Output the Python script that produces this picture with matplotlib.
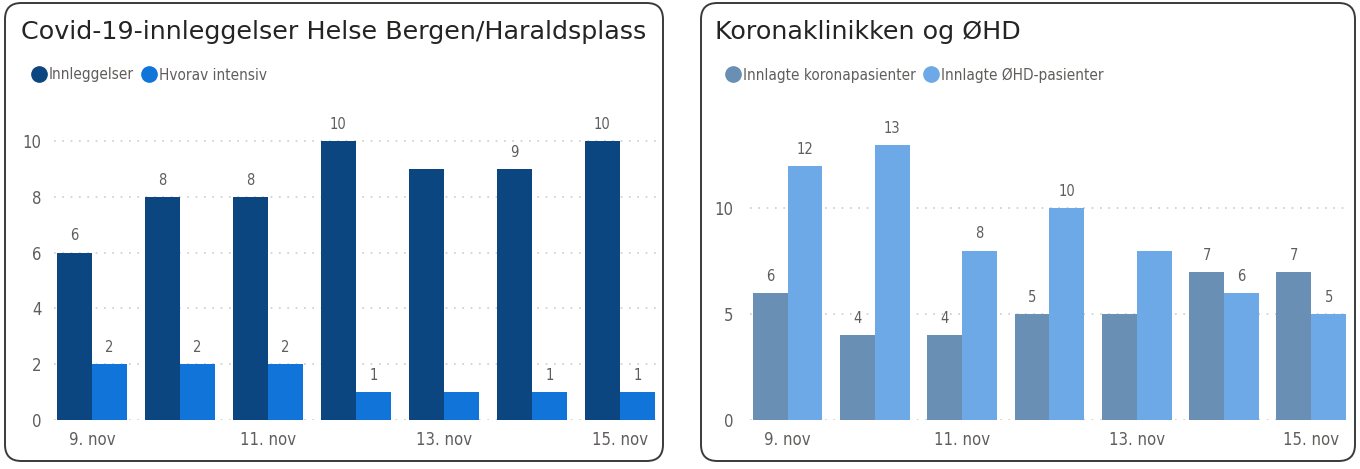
import matplotlib
matplotlib.use("Agg")
import matplotlib.pyplot as plt
from matplotlib.patches import FancyBboxPatch
from matplotlib.lines import Line2D
import numpy as np

dager = ["9. nov", "10. nov", "11. nov", "12. nov", "13. nov", "14. nov", "15. nov"]
innleggelser = [6, 8, 8, 10, 9, 9, 10]
intensiv = [2, 2, 2, 1, 1, 1, 1]
korona = [6, 4, 4, 5, 5, 7, 7]
ohd = [12, 13, 8, 10, 8, 6, 5]
# datalabel vises ikke for 13. nov i originalen
skjul_label = [4]

TXT = "#605E5C"
plt.rcParams['font.family'] = ['DejaVu Sans']
plt.rcParams['font.stretch'] = 'condensed'

fig = plt.figure(figsize=(13.6, 4.69), dpi=100)
W, H = 1360, 469


def boks(x0, x1):
    p = FancyBboxPatch((x0 / W, 8 / H), (x1 - x0) / W, (466 - 8) / H,
                       boxstyle="round,pad=0,rounding_size=0.012",
                       transform=fig.transFigure, fill=False,
                       edgecolor="#3a3a3a", linewidth=1.4, mutation_aspect=W / H)
    fig.patches.append(p)


def panel(ax, s1, s2, c1, c2, ymax, yticks, pad):
    x = np.arange(len(dager))
    w = 0.4
    ax.bar(x - w / 2, s1, w, color=c1, zorder=2)
    ax.bar(x + w / 2, s2, w, color=c2, zorder=2)
    for i in x:
        if i in skjul_label:
            continue
        ax.text(i - w / 2, s1[i] + ymax * 0.03, str(s1[i]), ha="center", va="bottom",
                fontsize=10.5, color=TXT)
        ax.text(i + w / 2, s2[i] + ymax * 0.03, str(s2[i]), ha="center", va="bottom",
                fontsize=10.5, color=TXT)
    ax.set_xlim(-0.43, 6.42)
    ax.set_ylim(0, ymax)
    ax.set_yticks(yticks)
    ax.set_xticks(x[::2])
    ax.set_xticklabels(dager[::2])
    ax.tick_params(axis="both", length=0, colors=TXT, labelsize=12)
    ax.tick_params(axis="y", pad=pad)
    ax.tick_params(axis="x", pad=8)
    ax.grid(axis="y", color="#cccccc", linestyle=(0, (1, 4)), linewidth=1.2, zorder=0)
    for s in ax.spines.values():
        s.set_visible(False)


def legende(ax, farger, navn, x0):
    ax.legend(handles=[Line2D([], [], marker="o", ls="", color=c, markersize=11) for c in farger],
              labels=navn, loc="center left",
              bbox_to_anchor=(x0 / W, 1 - 75 / H), bbox_transform=fig.transFigure,
              ncol=2, frameon=False, fontsize=11, labelcolor=TXT,
              handletextpad=0.05, columnspacing=0.4, handlelength=1.2, borderpad=0)


# venstre panel
boks(5, 663)
ax1 = fig.add_axes([54 / W, 49 / H, 603 / W, 307 / H])
panel(ax1, innleggelser, intensiv, "#0B4680", "#1074D8", 11, [0, 2, 4, 6, 8, 10], 9)
fig.text(21 / W, 1 - 32 / H, "Covid-19-innleggelser Helse Bergen/Haraldsplass",
         fontsize=18.3, fontstretch="normal", color="#252423", va="center")
legende(ax1, ["#0B4680", "#1074D8"], ["Innleggelser", "Hvorav intensiv"], 22)

# høyre panel
boks(701, 1355)
ax2 = fig.add_axes([750 / W, 49 / H, 598 / W, 307 / H])
panel(ax2, korona, ohd, "#6A8FB4", "#6CA9E6", 14.5, [0, 5, 10], 12)
fig.text(715 / W, 1 - 32 / H, "Koronaklinikken og ØHD",
         fontsize=18.3, fontstretch="normal", color="#252423", va="center")
legende(ax2, ["#6A8FB4", "#6CA9E6"], ["Innlagte koronapasienter", "Innlagte ØHD-pasienter"], 716)

fig.savefig("out.png", dpi=100)
